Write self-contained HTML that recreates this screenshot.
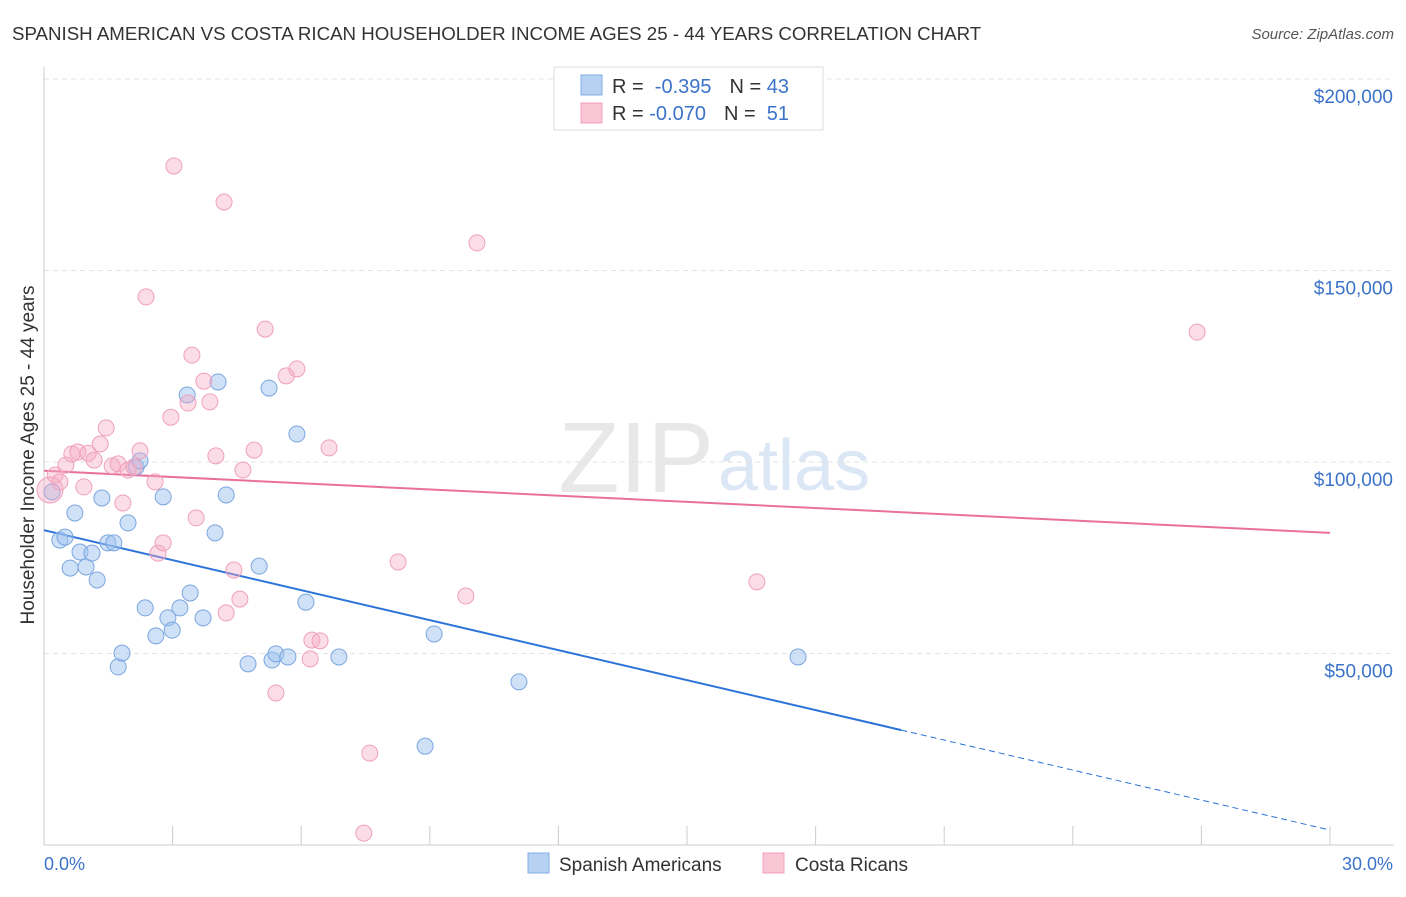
<!DOCTYPE html>
<html><head><meta charset="utf-8"><style>
body{margin:0;background:#fff;font-family:"Liberation Sans",sans-serif;}
svg text{font-family:"Liberation Sans",sans-serif;}
</style></head><body>
<svg id="chart" width="1406" height="892" viewBox="0 0 1406 892" xmlns="http://www.w3.org/2000/svg">
<text x="12" y="40" font-size="18.7" fill="#333">SPANISH AMERICAN VS COSTA RICAN HOUSEHOLDER INCOME AGES 25 - 44 YEARS CORRELATION CHART</text>
<text x="1394" y="39" font-size="15" fill="#555" font-style="italic" text-anchor="end">Source: ZipAtlas.com</text>
<text x="714" y="492" font-size="100" fill="#e8e8e8" text-anchor="end" font-family="Liberation Serif">ZIP</text>
<text x="718" y="490" font-size="72" fill="#dce7f6">atlas</text>
<text transform="translate(34,455) rotate(-90)" font-size="19" fill="#333" text-anchor="middle">Householder Income Ages 25 - 44 years</text>
<g id="grid"></g><g id="axes"></g><g id="lines"></g><g id="pts"></g>
<g>
<rect x="554" y="67" width="269" height="63" fill="#fff" stroke="#ddd"/>
<rect x="581" y="75" width="21" height="20" fill="#b7d1f3" stroke="#82aee6"/>
<rect x="581" y="103" width="21" height="20" fill="#f9c6d5" stroke="#f0a0bc"/>
<text x="612" y="93" font-size="20" fill="#333">R = <tspan fill="#3b73c9">&#160;-0.395</tspan><tspan dx="18">N = </tspan><tspan fill="#3b73c9">43</tspan></text>
<text x="612" y="120" font-size="20" fill="#333">R = <tspan fill="#3b73c9">-0.070</tspan><tspan dx="18">N = </tspan><tspan fill="#3b73c9">&#160;51</tspan></text>
</g>
<g>
<rect x="528" y="853" width="21" height="20" fill="#b7d1f3" stroke="#82aee6"/>
<text x="559" y="871" font-size="19" fill="#333">Spanish Americans</text>
<rect x="763" y="853" width="21" height="20" fill="#f9c6d5" stroke="#f0a0bc"/>
<text x="795" y="871" font-size="19" fill="#333">Costa Ricans</text>
</g>
</svg>
<script>
const yTicks=[50,100,150,200];
const yTickLabels=["$50,000","$100,000","$150,000","$200,000"];
const blueX=[0.19,0.37,0.49,0.61,0.72,0.84,0.98,1.12,1.24,1.35,1.49,1.63,1.73,1.82,1.96,2.15,2.24,2.36,2.61,2.78,2.89,2.99,3.17,3.34,3.41,3.71,3.99,4.06,4.25,4.76,5.02,5.25,5.32,5.41,5.69,5.90,6.11,6.88,8.89,9.10,11.08,17.59];
const blueY=[92.2,79.6,80.4,72.3,86.7,76.5,72.6,76.2,69.2,90.6,78.9,78.9,46.5,50.1,84.1,98.7,100.3,61.9,54.6,90.9,59.3,56.1,61.9,117.5,65.8,59.3,81.5,120.9,91.4,47.3,72.8,119.3,48.3,49.9,49.1,107.3,63.4,49.1,25.8,55.1,42.6,49.1];
const pinkX=[0.14,0.26,0.37,0.51,0.65,0.79,0.93,1.03,1.17,1.31,1.45,1.59,1.73,1.84,1.96,2.10,2.24,2.38,2.59,2.66,2.78,2.96,3.03,3.36,3.45,3.55,3.73,3.87,4.01,4.20,4.25,4.43,4.57,4.64,4.90,5.16,5.41,5.65,5.90,6.21,6.25,6.44,6.65,7.46,7.60,8.26,9.84,10.10,16.63,26.90];
const pinkY=[92.7,96.6,94.8,99.2,102.1,102.6,93.5,102.3,100.5,104.7,108.9,99.0,99.5,89.3,97.9,98.7,102.9,143.1,94.8,76.2,78.9,111.7,177.3,115.4,127.9,85.4,121.1,115.7,101.6,167.9,60.6,71.8,64.2,97.9,103.1,134.7,39.7,122.5,124.3,48.6,53.5,53.3,103.7,3.1,24.0,73.9,65.0,157.2,68.7,133.9];
const blueTrend=[82.2,3.9], pinkTrend=[97.7,81.5];
const NS="http://www.w3.org/2000/svg";
const X=v=>44+v/30*1286, Y=v=>845-v*3.83;
function mk(p,t,a){const e=document.createElementNS(NS,t);for(const k in a)e.setAttribute(k,a[k]);document.getElementById(p).appendChild(e);return e;}
yTicks.forEach((t,i)=>{
 const g=mk('grid','line',{x1:44,x2:1394,y1:Y(t),y2:Y(t),stroke:'#e3e3e3','stroke-dasharray':'5,4'});
 
 
 const l=mk('axes','text',{x:1393,y:Y(t)+24,'font-size':19,fill:'#3b73c9','text-anchor':'end'});l.textContent=yTickLabels[i];
 
 
});
mk('axes','line',{x1:44,x2:44,y1:67,y2:845,stroke:'#ccc'});
mk('axes','line',{x1:44,x2:1394,y1:845,y2:845,stroke:'#ccc'});
for(let i=0;i<=10;i++){mk('axes','line',{x1:X(i*3),x2:X(i*3),y1:826,y2:845,stroke:'#ccc'});}
let t=mk('axes','text',{x:44,y:870,'font-size':18,fill:'#3b73c9'});t.textContent='0.0%';


t=mk('axes','text',{x:1393,y:870,'font-size':18,fill:'#3b73c9','text-anchor':'end'});t.textContent='30.0%';


function pts(xs,ys,fill,stroke,name){xs.forEach((x,i)=>{const c=mk('pts','circle',{cx:X(x),cy:Y(ys[i]),r:(name==='pink-point'&&i===0)?13:8,fill:fill,stroke:stroke,'stroke-width':1});
 
 });}
pts(blueX,blueY,'rgba(160,195,240,0.5)','#7aa6e0','blue-point');
pts(pinkX,pinkY,'rgba(245,170,195,0.4)','#f0a0bc','pink-point');
const bAt=x=>blueTrend[0]+(blueTrend[1]-blueTrend[0])*x/30;
let ln=mk('lines','line',{x1:X(0),y1:Y(bAt(0)),x2:X(20),y2:Y(bAt(20)),stroke:'#2b72d9','stroke-width':2});


ln=mk('lines','line',{x1:X(20),y1:Y(bAt(20)),x2:X(30),y2:Y(bAt(30)),stroke:'#2b72d9','stroke-width':1,'stroke-dasharray':'6,4'});


ln=mk('lines','line',{x1:X(0),y1:Y(pinkTrend[0]),x2:X(30),y2:Y(pinkTrend[1]),stroke:'#e8709a','stroke-width':2});


</script>
</body></html>
